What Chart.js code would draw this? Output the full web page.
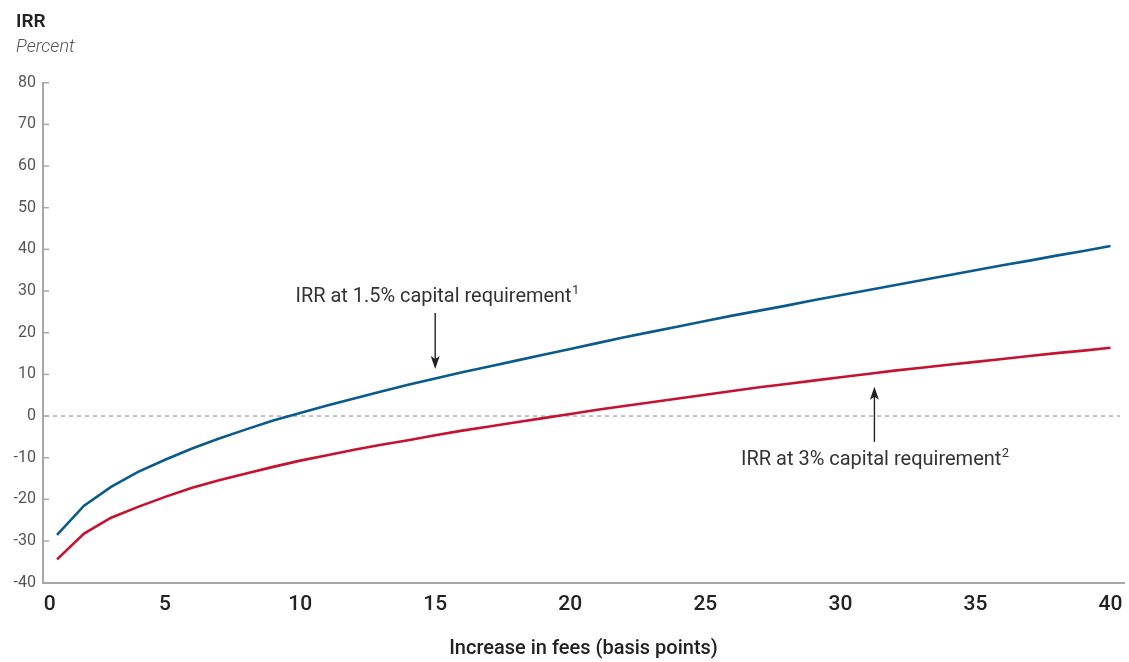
<!DOCTYPE html>
<html><head><meta charset="utf-8">
<script src="https://cdn.jsdelivr.net/npm/chart.js@4"></script>
<style>html,body{margin:0;padding:0;background:#fff}#wrap{width:1129px;height:662px;position:relative}</style>
</head><body><div id="wrap"><canvas id="c" width="1129" height="662"></canvas></div>
<script>
// ---- data ----
const fees = [1,2,3,4,5,6,7,8,9,10,11,12,13,14,15,16,17,18,19,20,21,22,23,24,25,26,27,28,29,30,31,32,33,34,35,36,37,38,39,40];
const irr15 = [-28.5,-21.5,-17.0,-13.4,-10.5,-7.8,-5.4,-3.2,-1.1,0.7,2.5,4.2,5.9,7.5,9.0,10.5,11.9,13.3,14.7,16.1,17.5,18.9,20.2,21.5,22.8,24.1,25.3,26.5,27.8,29.0,30.2,31.4,32.6,33.8,35.0,36.2,37.3,38.5,39.6,40.8];
const irr30 = [-34.4,-28.2,-24.4,-21.8,-19.4,-17.2,-15.4,-13.8,-12.2,-10.7,-9.4,-8.1,-6.9,-5.8,-4.6,-3.5,-2.5,-1.5,-0.5,0.5,1.5,2.4,3.3,4.2,5.1,6.0,6.9,7.7,8.5,9.3,10.1,10.9,11.6,12.3,13.0,13.7,14.4,15.1,15.7,16.4];
const xTicks = [0,5,10,15,20,25,30,35,40];
const yTicks = [-40,-30,-20,-10,0,10,20,30,40,50,60,70,80];
const chartTitle = 'IRR';
const chartUnit = 'Percent';
const xAxisTitle = 'Increase in fees (basis points)';
const label15 = 'IRR at 1.5% capital requirement';
const label30 = 'IRR at 3% capital requirement';

// ---- styles / layout ----
const BLUE = '#0a5b8c', RED = '#c5122f', AXIS = '#a8a8a8';
const FONT = 'Roboto, "Open Sans", "DejaVu Sans", sans-serif';
const xMin = 0.48, xMax = 40.5, yMin = -40, yMax = 80;

// annotations in data coordinates
const notes = [
  {text: label15, sup: '1', cx: 15.05, cy: 28.6, ax: 15.0, from: 24.7, to: 11.3, width: 276},
  {text: label30, sup: '2', cx: 31.25, cy: -10.6, ax: 31.26, from: -6.2, to: 7.0, width: 265}
];

const decor = {
  id: 'decor',
  beforeDatasetsDraw(chart) {
    const {ctx, chartArea: a, scales: {x, y}} = chart;
    const y0 = y.getPixelForValue(0);
    ctx.save();
    ctx.strokeStyle = '#9a9a9a';
    ctx.lineWidth = 1.2;
    ctx.setLineDash([4, 4]);
    ctx.beginPath();
    ctx.moveTo(a.left + 2, y0);
    ctx.lineTo(x.getPixelForValue(40.35), y0);
    ctx.stroke();
    ctx.setLineDash([]);
    ctx.strokeStyle = AXIS;
    ctx.lineWidth = 1.5;
    yTicks.forEach(v => {
      const py = y.getPixelForValue(v);
      ctx.beginPath();
      ctx.moveTo(a.left, py);
      ctx.lineTo(a.left + 6, py);
      ctx.stroke();
    });
    ctx.restore();
  },
  afterDraw(chart) {
    const {ctx, scales: {x, y}} = chart;
    ctx.save();
    ctx.fillStyle = '#222';
    ctx.textBaseline = 'alphabetic';
    ctx.textAlign = 'left';
    ctx.font = '600 19px ' + FONT;
    ctx.fillText(chartTitle, 16, 27);
    ctx.fillStyle = '#555';
    ctx.font = 'italic 300 18px ' + FONT;
    ctx.fillText(chartUnit, 16, 52);
    notes.forEach(n => {
      const px = x.getPixelForValue(n.cx);
      const py = y.getPixelForValue(n.cy);
      ctx.font = '400 20px ' + FONT;
      ctx.fillStyle = '#333';
      const w = Math.min(ctx.measureText(n.text).width, n.width);
      const left = px - (w + 6) / 2;
      ctx.textBaseline = 'middle';
      ctx.fillText(n.text, left, py, n.width);
      ctx.font = '400 13px ' + FONT;
      ctx.fillText(n.sup, left + w + 0.5, py - 6);
      const axp = x.getPixelForValue(n.ax);
      const fy = y.getPixelForValue(n.from);
      const ty = y.getPixelForValue(n.to);
      const dir = ty > fy ? 1 : -1;
      ctx.strokeStyle = '#222';
      ctx.fillStyle = '#222';
      ctx.lineWidth = 1.4;
      ctx.beginPath();
      ctx.moveTo(axp, fy);
      ctx.lineTo(axp, ty - dir * 8);
      ctx.stroke();
      ctx.beginPath();
      ctx.moveTo(axp, ty);
      ctx.lineTo(axp - 4.5, ty - dir * 13);
      ctx.lineTo(axp, ty - dir * 10);
      ctx.lineTo(axp + 4.5, ty - dir * 13);
      ctx.closePath();
      ctx.fill();
    });
    ctx.restore();
  }
};

new Chart(document.getElementById('c'), {
  type: 'line',
  data: {
    datasets: [
      {data: fees.map((f, i) => ({x: f, y: irr15[i]})), borderColor: BLUE, borderWidth: 2.6, pointRadius: 0, tension: 0, fill: false},
      {data: fees.map((f, i) => ({x: f, y: irr30[i]})), borderColor: RED, borderWidth: 2.6, pointRadius: 0, tension: 0, fill: false}
    ]
  },
  options: {
    responsive: false,
    devicePixelRatio: 1,
    animation: false,
    layout: {padding: {left: 0, right: 5, top: 82.7, bottom: 0}},
    plugins: {legend: {display: false}, tooltip: {enabled: false}, title: {display: false}},
    scales: {
      x: {
        type: 'linear', min: xMin, max: xMax,
        afterFit(s) { s.height = 662 - 582.7; s.paddingLeft = 0; s.paddingRight = 0; },
        afterBuildTicks(s) { s.ticks = xTicks.map(v => ({value: Math.max(v, xMin + 0.25)})); },
        grid: {display: false, drawTicks: false},
        border: {display: true, color: AXIS, width: 2},
        ticks: {
          padding: 9,
          color: '#222',
          font: {family: FONT, size: 21, weight: 500},
          maxRotation: 0, autoSkip: false,
          callback: (v, i) => String(xTicks[i])
        },
        title: {display: true, text: xAxisTitle, color: '#222', font: {family: FONT, size: 20, weight: 500}, padding: {top: 8, bottom: 1}}
      },
      y: {
        min: yMin, max: yMax,
        afterFit(s) { s.width = 43; s.paddingTop = 0; s.paddingBottom = 0; },
        afterBuildTicks(s) { s.ticks = yTicks.map(v => ({value: v})); },
        grid: {display: true, drawOnChartArea: false, drawTicks: false},
        border: {display: true, color: AXIS, width: 2},
        ticks: {padding: 7, color: '#555', font: {family: FONT, size: 16, weight: 400}}
      }
    }
  },
  plugins: [decor]
});
</script>
</body></html>
